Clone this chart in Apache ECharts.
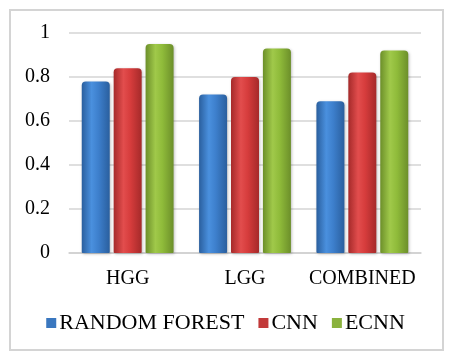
<!DOCTYPE html>
<html><head><meta charset="utf-8">
<script src="https://cdn.jsdelivr.net/npm/echarts@6/dist/echarts.min.js"></script>
<style>html,body{margin:0;padding:0;background:#fff}#c{width:451px;height:360px}</style>
</head><body><div id="c"></div>
<script>
const categories = ['HGG', 'LGG', 'COMBINED'];
const seriesNames = ['RANDOM FOREST', 'CNN', 'ECNN'];
const randomForest = [0.78, 0.72, 0.69];
const cnn = [0.84, 0.80, 0.82];
const ecnn = [0.95, 0.93, 0.92];
const yTicks = [0, 0.2, 0.4, 0.6, 0.8, 1];

function grad(dark, mid, light) {
  return new echarts.graphic.LinearGradient(0, 0, 1, 0, [
    {offset: 0, color: dark}, {offset: 0.35, color: light}, {offset: 0.6, color: mid}, {offset: 1, color: dark}
  ]);
}
const colors = [
  grad('#2a5f9e', '#3d7fcc', '#4a90de'),
  grad('#a52a2a', '#d63c3c', '#e24d4d'),
  grad('#6c8f2a', '#8fbb3a', '#a0c94a')
];
const legendColors = ['#3a77bf', '#c23a3a', '#8ab23d'];
const data = [randomForest, cnn, ecnn];

const chart = echarts.init(document.getElementById('c'), null, {renderer: 'canvas'});
chart.setOption({
  animation: false,
  textStyle: {fontFamily: 'Liberation Serif'},
  graphic: [{type: 'rect', shape: {x: 10, y: 10, width: 433, height: 340}, style: {fill: 'none', stroke: '#d4d4d4', lineWidth: 2}, z: -1}],
  grid: {left: 69, right: 30, top: 33, bottom: 107},
  legend: {
    top: 307, left: 'center', itemWidth: 10, itemHeight: 10, itemGap: 14,
    icon: 'rect',
    textStyle: {fontFamily: 'Liberation Serif', fontSize: 22, color: '#000', padding: [0, 0, 0, -2]},
    data: seriesNames.map((n, i) => ({name: n, itemStyle: {color: legendColors[i]}}))
  },
  xAxis: {
    type: 'category', data: categories,
    axisLine: {lineStyle: {color: '#d0d0d0', width: 1.5}}, axisTick: {show: false},
    axisLabel: {interval: 0, fontFamily: 'Liberation Serif', fontSize: 20, color: '#000', margin: 16}
  },
  yAxis: {
    type: 'value', min: 0, max: 1, interval: 0.2,
    axisLine: {show: false}, axisTick: {show: false},
    splitLine: {lineStyle: {color: '#d4d4d4', width: 1.5}},
    axisLabel: {fontFamily: 'Liberation Serif', fontSize: 20, color: '#000', margin: 19,
      formatter: v => { const t = yTicks.find(x => Math.abs(x - v) < 1e-9); return t === undefined ? '' : String(t); }}
  },
  series: data.map((d, i) => ({
    name: seriesNames[i], type: 'bar', data: d, barWidth: 28, barGap: '14%',
    itemStyle: {color: colors[i], borderRadius: [4, 4, 1, 1], shadowColor: 'rgba(0,0,0,0.25)', shadowBlur: 3, shadowOffsetX: 1, shadowOffsetY: 1}
  }))
});
</script></body></html>
